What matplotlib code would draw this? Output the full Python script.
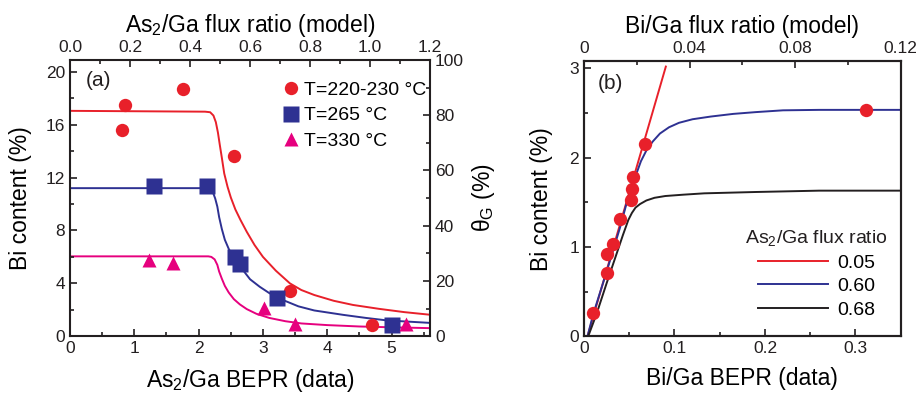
import matplotlib
matplotlib.use("Agg")
import matplotlib.pyplot as plt
from matplotlib.lines import Line2D
from matplotlib.ticker import MultipleLocator

plt.rcParams['font.family'] = ['Liberation Sans', 'DejaVu Sans']
plt.rcParams['mathtext.fontset'] = 'custom'
plt.rcParams['mathtext.rm'] = 'Liberation Sans'
plt.rcParams['mathtext.it'] = 'Liberation Sans:italic'

RED = '#E8202A'
BLUE = '#2E3192'
MAG = '#E6007E'
BLK = '#231F20'

# ---------------- Panel (a) data ----------------
a_red_x = [0.81, 0.855, 1.76, 2.55, 3.42, 4.70]
a_red_y = [15.6, 17.5, 18.7, 13.6, 3.4, 0.83]
a_blue_x = [1.30, 2.13, 2.57, 2.65, 3.22, 5.0]
a_blue_y = [11.36, 11.36, 6.0, 5.43, 2.9, 0.83]
a_mag_x = [1.23, 1.60, 3.01, 3.50, 5.22]
a_mag_y = [5.75, 5.5, 2.1, 0.95, 0.9]

# model curves (As2/Ga flux ratio, theta_G %)
m_red_x = [0, 0.450, 0.467, 0.478, 0.486, 0.493, 0.499, 0.506, 0.514, 0.525,
           0.536, 0.551, 0.568, 0.589, 0.615, 0.643, 0.686, 0.733, 0.771,
           0.814, 0.879, 0.943, 1.029, 1.114, 1.2]
m_red_y = [81.6, 81.3, 81.1, 79.9, 77.5, 73.7, 69.4, 64.6, 58.9, 54.1,
           50.2, 45.9, 42.1, 37.8, 33.0, 28.7, 23.7, 19.1, 16.7,
           14.9, 12.8, 11.3, 9.9, 8.7, 7.75]
m_blue_x = [0, 0.454, 0.467, 0.476, 0.484, 0.491, 0.497, 0.506, 0.516, 0.529,
            0.546, 0.568, 0.600, 0.632, 0.664, 0.707, 0.761, 0.814, 0.911,
            0.986, 1.056, 1.136, 1.2]
m_blue_y = [53.6, 53.6, 53.1, 52.2, 49.8, 46.9, 43.1, 38.8, 34.9, 31.6,
            28.2, 25.1, 20.6, 17.9, 15.6, 13.2, 10.8, 9.3, 7.7,
            6.6, 5.7, 5.2, 4.8]
m_mag_x = [0, 0.461, 0.471, 0.482, 0.491, 0.497, 0.506, 0.516, 0.529, 0.546,
           0.566, 0.589, 0.621, 0.664, 0.718, 0.771, 0.857, 0.964, 1.071, 1.2]
m_mag_y = [28.9, 28.9, 28.7, 27.8, 25.8, 23.4, 20.8, 18.2, 15.8, 13.4,
           11.5, 9.8, 8.1, 6.6, 5.4, 4.6, 4.0, 3.5, 3.2, 2.9]

a_legend = ['T=220-230 °C', 'T=265 °C', 'T=330 °C']

# ---------------- Panel (b) data ----------------
b_pts_x = [0.0103, 0.0257, 0.0257, 0.0323, 0.040, 0.052, 0.053, 0.054, 0.068, 0.312]
b_pts_y = [0.255, 0.71, 0.92, 1.03, 1.31, 1.52, 1.65, 1.78, 2.15, 2.53]

b_red_x = [0.004, 0.0905]
b_red_y = [0.0, 3.02]
b_blue_x = [0.004, 0.0104, 0.025, 0.040, 0.048, 0.053, 0.058, 0.063, 0.069,
            0.076, 0.084, 0.094, 0.105, 0.12, 0.14, 0.165, 0.19, 0.22, 0.26, 0.35]
b_blue_y = [0.0, 0.25, 0.72, 1.22, 1.52, 1.68, 1.82, 1.96, 2.08,
            2.18, 2.27, 2.34, 2.39, 2.43, 2.46, 2.49, 2.51, 2.53, 2.535, 2.535]
b_blk_x = [0.0048, 0.014, 0.025, 0.034, 0.043, 0.049, 0.053, 0.057, 0.062,
           0.069, 0.078, 0.09, 0.11, 0.133, 0.19, 0.26, 0.35]
b_blk_y = [0.0, 0.25, 0.59, 0.86, 1.13, 1.30, 1.38, 1.44, 1.48,
           1.52, 1.55, 1.57, 1.585, 1.60, 1.615, 1.63, 1.63]
b_legend = ['0.05', '0.60', '0.68']

TICK_FS = 12.5
LAB_FS = 16.5
LW = 1.4
SPW = 1.5

fig = plt.figure(figsize=(9.21, 3.95), dpi=100)


def style(ax):
    for s in ax.spines.values():
        s.set_linewidth(SPW)
        s.set_color('#231F20')
    ax.tick_params(which='both', direction='in', width=1.2, colors='#231F20',
                   labelsize=TICK_FS, labelcolor='#231F20')
    ax.tick_params(which='major', length=5)
    ax.tick_params(which='minor', length=3)


# ===== Panel (a) =====
axa = fig.add_axes([0.076, 0.149, 0.391, 0.699])
axa.set_xlim(0, 5.6)
axa.set_ylim(0, 20.9)
axa.xaxis.set_major_locator(MultipleLocator(1))
axa.xaxis.set_minor_locator(MultipleLocator(0.5))
axa.yaxis.set_major_locator(MultipleLocator(4))
axa.yaxis.set_minor_locator(MultipleLocator(2))
style(axa)
axa.tick_params(top=False, right=False)

axm = fig.add_axes(axa.get_position(), frameon=False)
axm.set_xlim(0, 1.2)
axm.set_ylim(0, 100)
axm.xaxis.tick_top()
axm.yaxis.tick_right()
axm.xaxis.set_label_position('top')
axm.yaxis.set_label_position('right')
axm.xaxis.set_minor_locator(MultipleLocator(0.1))
axm.yaxis.set_major_locator(MultipleLocator(20))
axm.yaxis.set_minor_locator(MultipleLocator(10))
style(axm)
axm.set_xticks([0, 0.2, 0.4, 0.6, 0.8, 1.0, 1.2])
axm.set_xticklabels(['0.0', '0.2', '0.4', '0.6', '0.8', '1.0', '1.2'])

axm.plot(m_red_x, m_red_y, color=RED, lw=LW, zorder=2)
axm.plot(m_blue_x, m_blue_y, color=BLUE, lw=LW, zorder=2)
axm.plot(m_mag_x, m_mag_y, color=MAG, lw=LW, zorder=2)

axm.set_xlabel('As$_\\mathrm{2}$/Ga flux ratio (model)', fontsize=LAB_FS, labelpad=6)
axm.set_ylabel('θ$_\\mathrm{G}$ (%)', fontsize=LAB_FS, labelpad=4)

# data points on top
axa.set_zorder(axm.get_zorder() + 1)
axa.patch.set_visible(False)
axa.plot(a_red_x, a_red_y, 'o', color=RED, ms=9.6, mec='none', zorder=3)
axa.plot(a_blue_x, a_blue_y, 's', color=BLUE, ms=11, mec='none', zorder=3)
axa.plot(a_mag_x, a_mag_y, '^', color=MAG, ms=10.5, mec='none', zorder=3)
axa.set_xlabel('As$_\\mathrm{2}$/Ga BEPR (data)', fontsize=LAB_FS, labelpad=8)
axa.set_ylabel('Bi content (%)', fontsize=LAB_FS, labelpad=10)
axa.text(0.045, 0.96, '(a)', transform=axa.transAxes, fontsize=15,
         va='top', ha='left', color='#231F20')

h = [Line2D([], [], ls='none', marker='o', color=RED, ms=9.6, mec='none'),
     Line2D([], [], ls='none', marker='s', color=BLUE, ms=11, mec='none'),
     Line2D([], [], ls='none', marker='^', color=MAG, ms=10.5, mec='none')]
axa.legend(h, a_legend, loc='upper right', bbox_to_anchor=(1.005, 0.945),
           frameon=False, fontsize=14, handletextpad=0.05, labelspacing=0.42,
           borderaxespad=0.2, handlelength=1.2, borderpad=0.1)

# ===== Panel (b) =====
axb = fig.add_axes([0.634, 0.149, 0.344, 0.696])
axb.set_xlim(0, 0.35)
axb.set_ylim(0, 3.08)
axb.xaxis.set_minor_locator(MultipleLocator(0.05))
axb.yaxis.set_major_locator(MultipleLocator(1))
axb.yaxis.set_minor_locator(MultipleLocator(0.5))
style(axb)
axb.tick_params(top=False, right=False)
axb.set_xticks([0, 0.1, 0.2, 0.3])
axb.set_xticklabels(['0', '0.1', '0.2', '0.3'])

axbt = axb.twiny()
axbt.set_xlim(0, 0.12)
axbt.xaxis.set_minor_locator(MultipleLocator(0.02))
style(axbt)
axbt.set_xticks([0, 0.04, 0.08, 0.12])
axbt.set_xticklabels(['0', '0.04', '0.08', '0.12'])
axbt.set_xlabel('Bi/Ga flux ratio (model)', fontsize=LAB_FS, labelpad=6)

l1, = axb.plot(b_red_x, b_red_y, color=RED, lw=LW, zorder=2)
l2, = axb.plot(b_blue_x, b_blue_y, color=BLUE, lw=LW, zorder=2)
l3, = axb.plot(b_blk_x, b_blk_y, color=BLK, lw=LW, zorder=2)
axb.plot(b_pts_x, b_pts_y, 'o', color=RED, ms=9.6, mec='none', zorder=3)
axb.set_xlabel('Bi/Ga BEPR (data)', fontsize=LAB_FS, labelpad=8)
axb.set_ylabel('Bi content (%)', fontsize=LAB_FS, labelpad=12)
axb.text(0.045, 0.955, '(b)', transform=axb.transAxes, fontsize=15,
         va='top', ha='left', color='#231F20')
leg = axb.legend([l1, l2, l3], b_legend, title='As$_\\mathrm{2}$/Ga flux ratio',
                 loc='lower right', bbox_to_anchor=(1.015, 0.0), frameon=False,
                 fontsize=14, title_fontsize=14, handlelength=3.6,
                 handletextpad=0.5, labelspacing=0.3)
leg.get_title().set_color('#231F20')

fig.savefig('out.png', dpi=100)
